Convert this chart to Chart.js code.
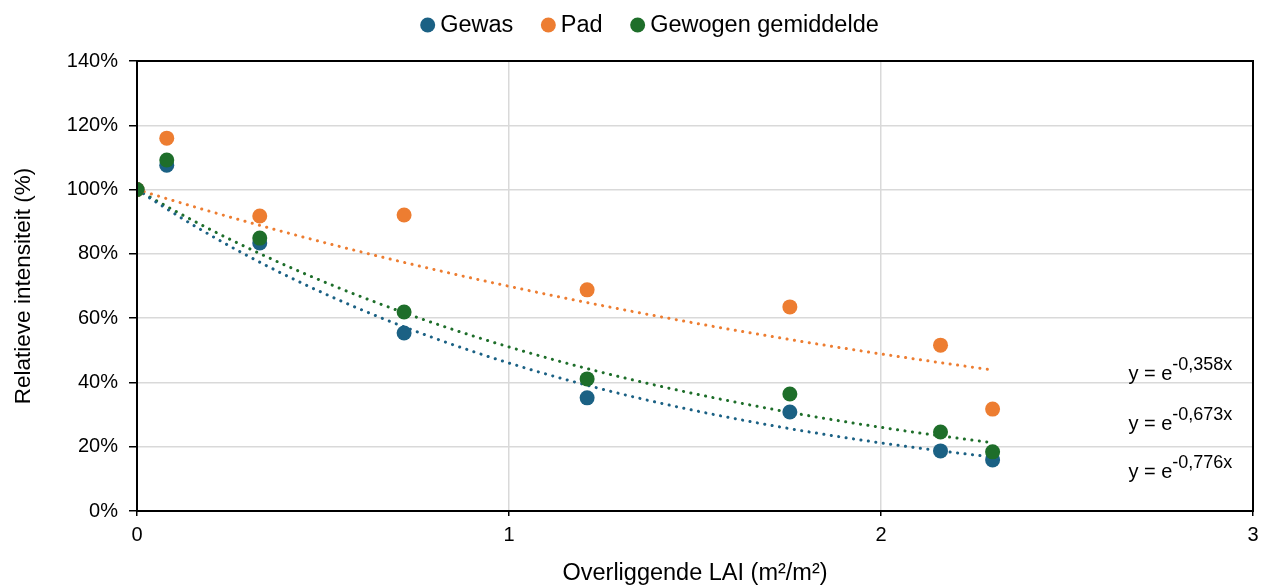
<!DOCTYPE html>
<html>
<head>
<meta charset="utf-8">
<script src="https://cdn.jsdelivr.net/npm/chart.js@4.4.0/dist/chart.umd.min.js"></script>
<style>
  html, body { margin: 0; padding: 0; background: #fff; }
  #wrap { width: 1263px; height: 588px; }
</style>
</head>
<body>
<div id="wrap"><canvas id="myChart"></canvas></div>
<script>
// LAI above each measurement (m2/m2)
const laiValues = [0, 0.08, 0.33, 0.718, 1.21, 1.755, 2.16, 2.30];
const gewasValues = [100, 107.6, 83.4, 55.4, 35.2, 30.8, 18.7, 15.9];
const padValues = [100, 116.0, 91.8, 92.1, 68.8, 63.5, 51.6, 31.7];
const gewogenValues = [100, 109.2, 84.9, 61.9, 41.1, 36.4, 24.6, 18.4];

// fitted coefficients as printed on the chart: y = e^(-k x)
const seriesNames = ['Gewas', 'Pad', 'Gewogen gemiddelde'];
const trendCoefs = [0.776, 0.358, 0.673];
const trendTexts = ['-0,776x', '-0,358x', '-0,673x'];
const colors = ['#1b6184', '#ed7d31', '#1e6e2a'];

const xTicks = [0, 1, 2, 3];

const FONT = '"Liberation Sans", Arial, sans-serif';

function points(values) {
    return laiValues.map((x, i) => ({ x: x, y: values[i] }));
}

function trendPoints(k) {
    const out = [];
    const xMax = Math.max(...laiValues);
    const steps = 60;
    for (let i = 0; i <= steps; i++) {
        const x = xMax * i / steps;
        out.push({ x: x, y: 100 * Math.exp(-k * x) });
    }
    return out;
}

const seriesValues = [gewasValues, padValues, gewogenValues];

const datasets = [];
seriesValues.forEach((vals, i) => {
    datasets.push({
        label: seriesNames[i],
        data: points(vals),
        backgroundColor: colors[i],
        borderColor: colors[i],
        pointRadius: 7.5,
        pointHoverRadius: 7.5,
        pointBorderWidth: 0,
        showLine: false,
        order: 3 - i
    });
});
seriesValues.forEach((vals, i) => {
    datasets.push({
        label: 'trend',
        isTrend: true,
        data: trendPoints(trendCoefs[i]),
        borderColor: colors[i],
        borderWidth: 3,
        borderDash: [0.1, 7.4],
        borderCapStyle: 'round',
        pointRadius: 0,
        showLine: true,
        fill: false,
        tension: 0,
        order: 10
    });
});

// label baseline anchor in data units (LAI, %)
const labelSpots = [
    { x: 2.665, y: 10.3 },
    { x: 2.665, y: 40.8 },
    { x: 2.665, y: 25.2 }
];

// legend in the Excel style: dot right against the text
function drawLegend(chart) {
    const c = chart.ctx;
    const r = 7.5, gap = 5, between = 27.5;
    c.font = '23.5px ' + FONT;
    const widths = seriesNames.map(n => 2 * r + gap + c.measureText(n).width);
    const total = widths.reduce((s, w) => s + w, 0) + between * (widths.length - 1);
    let x = 649.5 - total / 2;
    const y = 25;
    c.textBaseline = 'middle';
    c.textAlign = 'left';
    seriesNames.forEach((n, i) => {
        c.fillStyle = colors[i];
        c.beginPath();
        c.arc(x + r, y, r, 0, Math.PI * 2);
        c.fill();
        c.fillStyle = '#000';
        c.fillText(n, x + 2 * r + gap, y + 1);
        x += widths[i] + between;
    });
}

const frameAndLabels = {
    id: 'frameAndLabels',
    afterDraw(chart) {
        const c = chart.ctx;
        const a = chart.chartArea;
        const xs = chart.scales.x;
        const ys = chart.scales.y;
        c.save();
        c.strokeStyle = '#000';
        c.lineWidth = 2;
        c.strokeRect(a.left, a.top, a.right - a.left, a.bottom - a.top);

        c.fillStyle = '#000';
        c.textBaseline = 'alphabetic';
        labelSpots.forEach((s, i) => {
            const px = xs.getPixelForValue(s.x);
            const py = ys.getPixelForValue(s.y);
            c.font = '20px ' + FONT;
            c.fillText('y = e', px, py);
            const w = c.measureText('y = e').width;
            c.font = '18px ' + FONT;
            c.fillText(trendTexts[i], px + w, py - 10);
        });

        drawLegend(chart);
        c.restore();
    }
};

const ctx = document.getElementById('myChart').getContext('2d');
const myChart = new Chart(ctx, {
    type: 'scatter',
    data: { datasets: datasets },
    options: {
        responsive: true,
        maintainAspectRatio: false,
        animation: false,
        layout: { padding: { left: 0, right: 10, top: 61, bottom: 0 } },
        plugins: {
            tooltip: { enabled: false },
            legend: { display: false }
        },
        scales: {
            x: {
                type: 'linear',
                min: 0,
                max: 3,
                afterBuildTicks: (axis) => { axis.ticks = xTicks.map(v => ({ value: v })); },
                ticks: {
                    color: '#000',
                    font: { family: FONT, size: 20 },
                    padding: 7
                },
                grid: { color: '#d9d9d9', lineWidth: 1.5, tickLength: 5, tickColor: '#000' },
                border: { color: '#000', width: 2 },
                title: {
                    display: true,
                    text: 'Overliggende LAI (m²/m²)',
                    color: '#000',
                    font: { family: FONT, size: 23.5 },
                    padding: { top: 8, bottom: 0 }
                },
                afterFit: (axis) => { axis.height = 77; axis.paddingRight = 10; }
            },
            y: {
                min: 0,
                max: 140,
                ticks: {
                    stepSize: 20,
                    color: '#000',
                    font: { family: FONT, size: 20 },
                    padding: 11,
                    callback: (v) => v + '%'
                },
                grid: { color: '#d9d9d9', lineWidth: 1.5, tickLength: 8, tickColor: '#000' },
                border: { color: '#000', width: 2 },
                title: {
                    display: true,
                    text: 'Relatieve intensiteit (%)',
                    color: '#000',
                    font: { family: FONT, size: 22.5 },
                    padding: { top: 10, bottom: 8 }
                },
                afterFit: (axis) => { axis.width = 137; }
            }
        }
    },
    plugins: [frameAndLabels]
});
</script>
</body>
</html>
